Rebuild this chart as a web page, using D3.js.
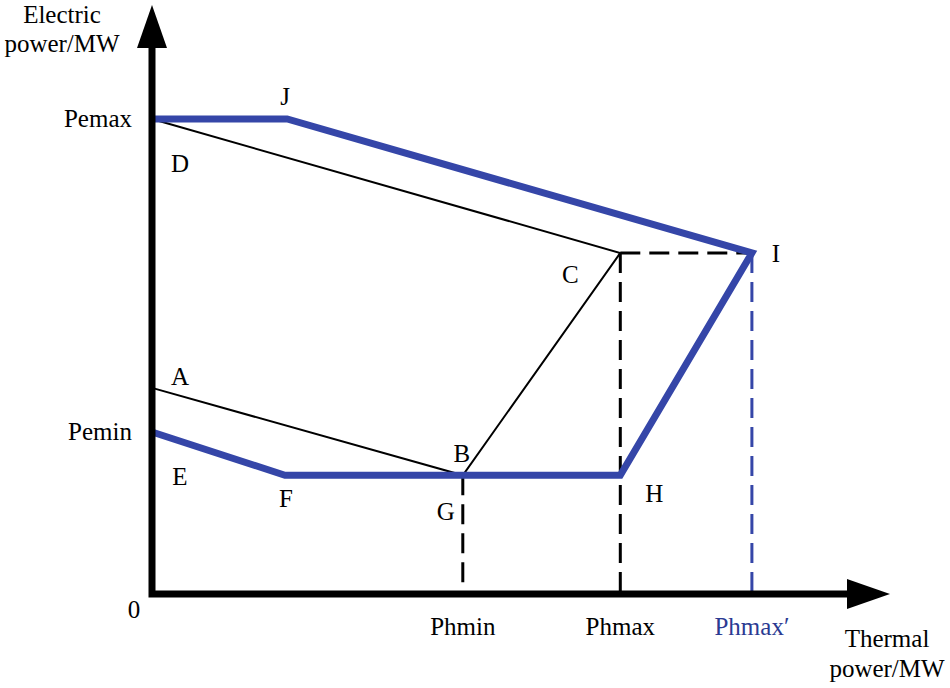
<!DOCTYPE html>
<html>
<head>
<meta charset="utf-8">
<script src="https://cdnjs.cloudflare.com/ajax/libs/d3/7.8.5/d3.min.js"></script>
<style>
  body { margin: 0; background: #fff; }
  text { font-family: "Liberation Serif", "DejaVu Serif", serif; font-size: 25px; }
</style>
</head>
<body>
<div id="chart"></div>
<script>
// operating region of a CHP unit, values in axis units (0..100)
let pointNames = ["A", "B", "C", "D", "E", "F", "G", "H", "I", "J"];
let pointX = [0, 44.4, 66.9, 0, 0, 19, 44.4, 66.9, 85.7, 19.3];
let pointY = [43.4, 25, 71.8, 100, 34.1, 25, 25, 25, 71.8, 100];

// thick blue boundary and thin black original region
let bluePath = ["E", "F", "G", "H", "I", "J", "D"];
let blackPath = ["D", "C", "B", "A"];

let xTickLabels = ["Phmin", "Phmax", "Phmax\u2032"];
let xTickValues = [44.4, 66.9, 85.7];
let yTickLabels = ["Pemin", "Pemax"];
let yTickValues = [34.1, 100];

let blue = "#3546a8";
let w = 950, h = 688;

let x = d3.scaleLinear().domain([0, 100]).range([152, 852]);
let y = d3.scaleLinear().domain([0, 100]).range([594, 119]);

let pts = {};
pointNames.forEach(function(n, i){ pts[n] = [pointX[i], pointY[i]]; });

let svg = d3.select("#chart").append("svg")
  .attr("width", w)
  .attr("height", h);

let line = d3.line()
  .x(function(d){ return x(pts[d][0]); })
  .y(function(d){ return y(pts[d][1]); });

//dashed guide lines
let dashes = [
  {from: "C", to: [66.9, 0], color: "#000"},
  {from: "G", to: [44.4, 0], color: "#000"},
  {from: "I", to: [85.7, 0], color: blue},
  {from: "C", to: [85.7, 71.8], color: "#000"}
];
svg.selectAll(".dash")
  .data(dashes)
  .enter().append("line")
  .attr("class", "dash")
  .attr("x1", function(d){ return x(pts[d.from][0]); })
  .attr("y1", function(d){ return y(pts[d.from][1]); })
  .attr("x2", function(d){ return x(d.to[0]); })
  .attr("y2", function(d){ return y(d.to[1]); })
  .attr("stroke", function(d){ return d.color; })
  .attr("stroke-width", 3)
  .attr("stroke-dasharray", "20,9");

//original region
svg.append("path")
  .attr("d", line(blackPath))
  .attr("fill", "none")
  .attr("stroke", "#000")
  .attr("stroke-width", 2);

//extended region
svg.append("path")
  .attr("d", line(bluePath))
  .attr("fill", "none")
  .attr("stroke", blue)
  .attr("stroke-width", 7)
  .attr("stroke-linejoin", "miter");

//axes with arrows
let x0 = x(0), y0 = y(0);
svg.append("path")
  .attr("d", "M" + x0 + ",46 L" + x0 + "," + y0 + " L849," + y0)
  .attr("fill", "none")
  .attr("stroke", "#000")
  .attr("stroke-width", 7)
  .attr("stroke-linejoin", "miter");
svg.append("path")
  .attr("d", "M" + x0 + ",5 L" + (x0 - 15) + ",48 L" + (x0 + 15) + ",48 Z")
  .attr("fill", "#000");
svg.append("path")
  .attr("d", "M890," + y0 + " L847," + (y0 - 15) + " L847," + (y0 + 15) + " Z")
  .attr("fill", "#000");

//tick labels
svg.selectAll(".xlab")
  .data(xTickLabels)
  .enter().append("text")
  .attr("class", "xlab")
  .attr("x", function(d, i){ return x(xTickValues[i]); })
  .attr("y", 635)
  .attr("text-anchor", "middle")
  .attr("fill", function(d, i){ return i == 2 ? "#2b3a92" : "#000"; })
  .text(function(d){ return d; });

svg.selectAll(".ylab")
  .data(yTickLabels)
  .enter().append("text")
  .attr("class", "ylab")
  .attr("x", x0 - 20)
  .attr("y", function(d, i){ return y(yTickValues[i]) + 8; })
  .attr("text-anchor", "end")
  .text(function(d){ return d; });

svg.append("text")
  .attr("x", 134).attr("y", 618)
  .attr("text-anchor", "middle")
  .text("0");

//axis titles
let yTitle = svg.append("text").attr("text-anchor", "middle");
yTitle.append("tspan").attr("x", 62).attr("y", 23).text("Electric");
yTitle.append("tspan").attr("x", 62).attr("y", 52).text("power/MW");

let xTitle = svg.append("text").attr("text-anchor", "middle");
xTitle.append("tspan").attr("x", 887).attr("y", 647).text("Thermal");
xTitle.append("tspan").attr("x", 887).attr("y", 677).text("power/MW");

//point letters, offsets in px from each point
let labelOffset = {
  A: [28, -3], B: [-1, -13], C: [-50, 30], D: [28, 53], E: [28, 53],
  F: [1, 32], G: [-17, 45], H: [34, 27], I: [24, 9], J: [-2, -14]
};
svg.selectAll(".pt")
  .data(pointNames)
  .enter().append("text")
  .attr("class", "pt")
  .attr("x", function(d){ return x(pts[d][0]) + labelOffset[d][0]; })
  .attr("y", function(d){ return y(pts[d][1]) + labelOffset[d][1]; })
  .attr("text-anchor", "middle")
  .text(function(d){ return d; });
</script>
</body>
</html>
